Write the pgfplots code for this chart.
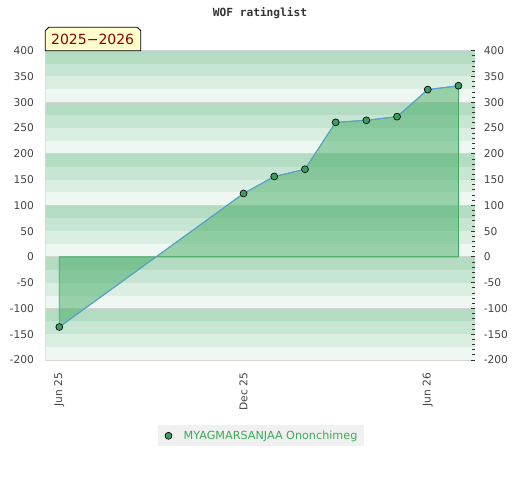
\documentclass[border=0pt]{standalone}
\usepackage{pgfplots}
\pgfplotsset{compat=1.18}
\usepackage{fontspec}
\setmainfont{DejaVu Sans}
\newfontfamily\monofont{DejaVu Sans Mono}
\definecolor{bandA}{HTML}{B3DCC3}
\definecolor{bandB}{HTML}{C7E5D3}
\definecolor{bandC}{HTML}{DAEEE1}
\definecolor{bandD}{HTML}{EEF7F1}
\definecolor{gridgray}{HTML}{D4D4D4}
\definecolor{areafill}{HTML}{44AB63}
\definecolor{areaedge}{HTML}{3CAB5E}
\definecolor{lineblue}{HTML}{5B9FD8}
\definecolor{markgreen}{HTML}{3A9E5F}
\definecolor{legtext}{HTML}{3DAA5C}
\definecolor{labgray}{HTML}{444444}
\definecolor{boxyellow}{HTML}{FFFFCC}
\definecolor{darkred}{HTML}{8B0000}
\begin{document}
\begin{tikzpicture}
\path[use as bounding box] (0,0) rectangle (390pt,360pt);
\begin{axis}[
  at={(33.98pt,90pt)}, anchor=south west,
  scale only axis, width=322.3pt, height=232pt,
  xmin=-0.456, xmax=13.54, ymin=-200, ymax=400,
  axis line style={draw=none},
  major tick length=0pt, minor tick length=0pt,
  ytick={-200,-150,...,400},
  xtick={0,6,12}, xticklabels={Jun 25,Dec 25,Jun 26},
  yticklabel pos=left,
  /pgf/number format/assume math mode=true,
  tick label style={font=\fontsize{8}{9}\selectfont, text=labgray},
  yticklabel style={xshift=-5pt},
  xticklabel style={rotate=90, anchor=east, xshift=-6pt},
  legend style={at={(axis description cs:0.502,-0.245)}, anchor=center,
    fill=black!6, draw=none, font=\fontsize{8.4}{10}\selectfont,
    text=legtext, inner xsep=3pt, inner ysep=2pt},
  legend image code/.code={\path[draw=none,fill=none] (0,0) -- (0.5cm,0); \draw[#1] plot coordinates {(0.17cm,0cm)};},
]
% background bands
\pgfplotsinvokeforeach{-200,-100,0,100,200,300}{
  \fill[bandD] (axis cs:-1,#1) rectangle (axis cs:14,#1+25);
  \fill[bandC] (axis cs:-1,#1+25) rectangle (axis cs:14,#1+50);
  \fill[bandB] (axis cs:-1,#1+50) rectangle (axis cs:14,#1+75);
  \fill[bandA] (axis cs:-1,#1+75) rectangle (axis cs:14,#1+100);
}
\pgfplotsinvokeforeach{-100,0,100,200,300,400}{
  \draw[gridgray, line width=0.75pt] (axis cs:-1,#1) -- (axis cs:14,#1);
}
\draw[gridgray, line width=0.75pt] (rel axis cs:0,0) -- (rel axis cs:0,1);
\draw[gridgray, line width=0.75pt] (rel axis cs:0,0) -- (rel axis cs:1,0);
% area
\addplot[fill=areafill, fill opacity=0.5, draw=areaedge, line width=0.6pt, forget plot]
  coordinates {(0,0) (0,-136) (6,123) (7,156) (8,170) (9,261) (10,265) (11,272) (12,324.5) (13,332) (13,0)} -- cycle;
% line
\addplot[lineblue, line width=0.75pt, forget plot]
  coordinates {(0,-136) (6,123) (7,156) (8,170) (9,261) (10,265) (11,272) (12,324.5) (13,332)};
% markers
\addplot[only marks, mark=*, mark size=2.6pt, mark options={fill=markgreen, draw=black, line width=0.5pt}]
  coordinates {(0,-136) (6,123) (7,156) (8,170) (9,261) (10,265) (11,272) (12,324.5) (13,332)};
\addlegendentry{MYAGMARSANJAA Ononchimeg}
\end{axis}
\begin{axis}[
  at={(33.98pt,90pt)}, anchor=south west,
  scale only axis, width=322.3pt, height=232pt,
  xmin=-0.456, xmax=13.54, ymin=-200, ymax=400,
  axis line style={draw=none},
  hide x axis,
  axis y line*=right,
  ytick={-200,-150,...,400},
  minor y tick num=4,
  tick align=inside,
  major tick length=3pt, minor tick length=2.2pt,
  tick style={black!80, line width=0.6pt},
  /pgf/number format/assume math mode=true,
  yticklabel style={font=\fontsize{8}{9}\selectfont, text=labgray, xshift=3pt},
]
\addplot[draw=none] coordinates {(0,0)};
\end{axis}
% title
\node[font=\monofont\bfseries\fontsize{8.4}{10}\selectfont, text=black!80] at (195pt,350pt) {WOF ratinglist};
% year box
\draw[fill=boxyellow, line width=0.6pt] (33.98pt,322pt) -- (33.98pt,337pt) -- (36.5pt,339.5pt) -- (103pt,339.5pt) -- (105.5pt,337pt) -- (105.5pt,322pt) -- cycle;
\node[font=\fontsize{10.5}{12}\selectfont, text=darkred] at (69.5pt,330.3pt) {2025−2026};
\end{tikzpicture}
\end{document}
